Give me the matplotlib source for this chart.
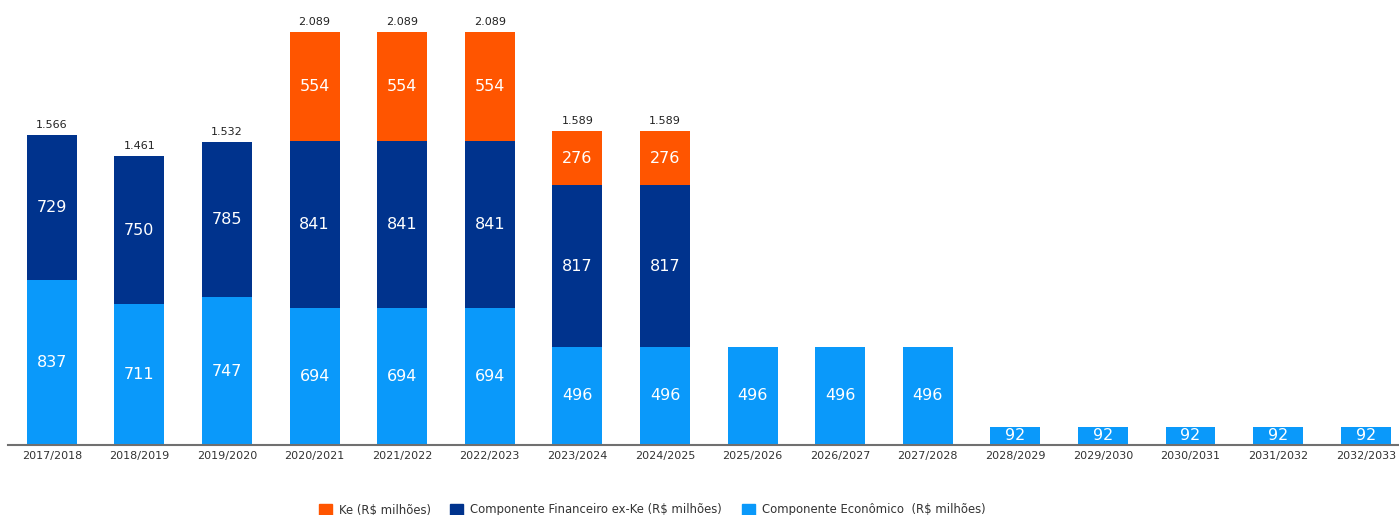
import matplotlib
matplotlib.use("Agg")
import matplotlib.pyplot as plt
from matplotlib.patches import Patch

plt.rcParams['font.family'] = ['DejaVu Sans']

periods = ["2017/2018", "2018/2019", "2019/2020", "2020/2021", "2021/2022",
           "2022/2023", "2023/2024", "2024/2025", "2025/2026", "2026/2027",
           "2027/2028", "2028/2029", "2029/2030", "2030/2031", "2031/2032",
           "2032/2033"]
economico = [837, 711, 747, 694, 694, 694, 496, 496, 496, 496, 496,
             92, 92, 92, 92, 92]
financeiro = [729, 750, 785, 841, 841, 841, 817, 817, 0, 0, 0,
              0, 0, 0, 0, 0]
ke = [0, 0, 0, 554, 554, 554, 276, 276, 0, 0, 0, 0, 0, 0, 0, 0]
totais = [1566, 1461, 1532, 2089, 2089, 2089, 1589, 1589]

c_econ = "#0A99FA"
c_fin = "#00338D"
c_ke = "#FF5500"

fig = plt.figure(figsize=(13.99, 5.15), dpi=100)
ax = fig.add_axes([8 / 1399, 70 / 515, 1 - 8 / 1399, 435 / 515])

x = list(range(len(periods)))
w = 0.57
series = [(economico, c_econ), (financeiro, c_fin), (ke, c_ke)]
bottoms = [0] * len(periods)
for vals, col in series:
    ax.bar(x, vals, w, bottom=bottoms, color=col, linewidth=0)
    for i, v in enumerate(vals):
        if v > 0:
            ax.text(i, bottoms[i] + v / 2, f"{v}", ha="center", va="center",
                    color="white", fontsize=11.5)
    bottoms = [b + v for b, v in zip(bottoms, vals)]

for i, t in enumerate(totais):
    ax.text(i, t + 25, f"{t:,}".replace(",", "."), ha="center", va="bottom",
            color="#222222", fontsize=8)

ax.set_xlim(-0.5, 15.38)
ax.set_ylim(0, 2200)
ax.set_xticks(x)
ax.set_xticklabels(periods, fontsize=8, color="#333333")
ax.tick_params(axis="x", length=0, pad=4)
ax.set_yticks([])
for s in ["top", "right", "left"]:
    ax.spines[s].set_visible(False)
ax.spines["bottom"].set_color("#707070")
ax.spines["bottom"].set_linewidth(1.5)

handles = [Patch(color=c_ke, label="Ke (R$ milhões)"),
           Patch(color=c_fin, label="Componente Financeiro ex-Ke (R$ milhões)"),
           Patch(color=c_econ, label="Componente Econômico  (R$ milhões)")]
fig.legend(handles=handles, loc="center", bbox_to_anchor=(652 / 1399, 1 - 510 / 515),
           ncol=3, frameon=False, fontsize=8.4, handlelength=1.1, handleheight=1.1,
           columnspacing=1.7, handletextpad=0.6, labelcolor="#333333")

fig.savefig("out.png", dpi=100)
